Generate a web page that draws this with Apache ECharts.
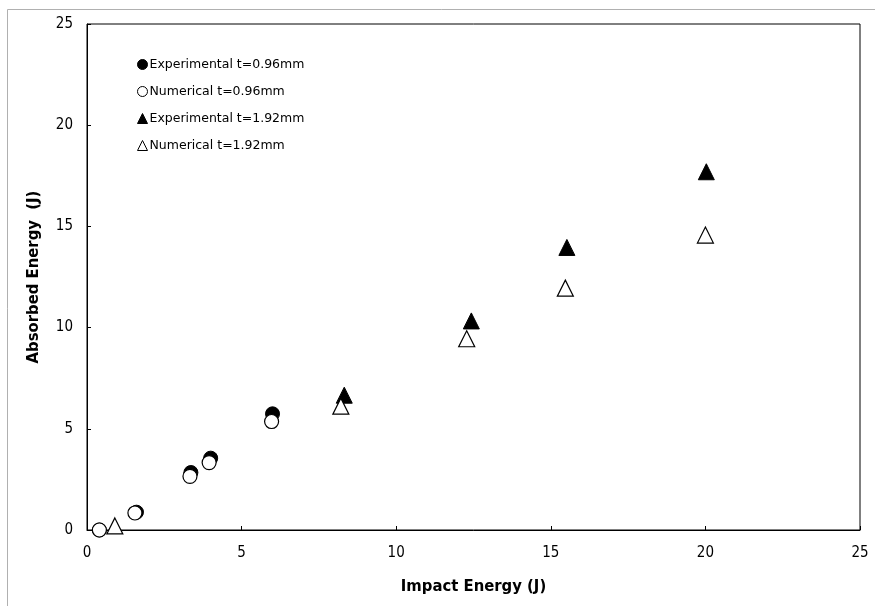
<!DOCTYPE html>
<html>
<head>
<meta charset="utf-8">
<script src="https://cdn.jsdelivr.net/npm/echarts@6/dist/echarts.min.js"></script>
<style>
html,body{margin:0;padding:0;background:#fff;}
#chart{width:875px;height:606px;}
</style>
</head>
<body>
<div id="chart"></div>
<script>
// Data
var expThinX = [0.4, 1.6, 3.36, 4.0, 6.0];
var expThinY = [0.0, 0.88, 2.84, 3.55, 5.74];
var numThinX = [0.4, 1.55, 3.33, 3.95, 5.97];
var numThinY = [0.0, 0.84, 2.65, 3.33, 5.36];
var expThickX = [8.32, 12.43, 15.52, 20.03];
var expThickY = [6.66, 10.33, 13.96, 17.7];
var numThickX = [0.9, 8.21, 12.28, 15.47, 20.0];
var numThickY = [0.2, 6.12, 9.45, 11.95, 14.57];
var seriesNames = ['Experimental t=0.96mm', 'Numerical t=0.96mm', 'Experimental t=1.92mm', 'Numerical t=1.92mm'];
var xTitle = 'Impact Energy (J)';
var yTitle = 'Absorbed Energy  (J)';

function pairs(xs, ys) { return xs.map(function (x, i) { return [x, ys[i]]; }); }

var chart = echarts.init(document.getElementById('chart'), null, {renderer: 'canvas'});
var tickFont = {fontFamily: 'DejaVu Sans Condensed, DejaVu Sans', fontSize: 15, color: '#000'};
var titleFont = {fontFamily: 'DejaVu Sans Condensed, DejaVu Sans', fontSize: 16.5, fontWeight: 'bold', color: '#000'};

chart.setOption({
  backgroundColor: '#fff',
  animation: false,
  graphic: [{
    type: 'rect', left: 5, top: 7, z: -10, silent: true,
    shape: {x: 0, y: 0, width: 900, height: 700},
    style: {fill: 'none', stroke: '#b0b0b0', lineWidth: 1}
  }],
  grid: {left: 87, top: 24, right: 15, bottom: 76, show: true, borderColor: '#000', borderWidth: 1, backgroundColor: 'transparent'},
  legend: {
    orient: 'vertical', left: 132, top: 53, itemGap: 14, itemWidth: 10, itemHeight: 10, itemStyle: {borderWidth: 1},
    textStyle: {fontFamily: 'DejaVu Sans', fontSize: 12.5, color: '#000', padding: [0, 0, 0, -3]},
    data: [
      {name: seriesNames[0], icon: 'circle', itemStyle: {color: '#000', borderColor: '#000'}},
      {name: seriesNames[1], icon: 'circle', itemStyle: {color: '#fff', borderColor: '#000'}},
      {name: seriesNames[2], icon: 'triangle', itemStyle: {color: '#000', borderColor: '#000'}},
      {name: seriesNames[3], icon: 'triangle', itemStyle: {color: '#fff', borderColor: '#000'}}
    ]
  },
  xAxis: {
    type: 'value', min: 0, max: 25, interval: 5,
    name: xTitle, nameLocation: 'middle', nameGap: 48, nameTextStyle: titleFont,
    axisLine: {show: true, lineStyle: {color: '#000', width: 1}},
    axisTick: {show: true, inside: true, length: 4, lineStyle: {color: '#000'}},
    axisLabel: Object.assign({margin: 16}, tickFont),
    splitLine: {show: false}
  },
  yAxis: {
    type: 'value', min: 0, max: 25, interval: 5,
    name: yTitle, nameLocation: 'middle', nameGap: 45, nameTextStyle: titleFont,
    axisLine: {show: true, lineStyle: {color: '#000', width: 1}},
    axisTick: {show: true, inside: true, length: 4, lineStyle: {color: '#000'}},
    axisLabel: Object.assign({margin: 14}, tickFont),
    splitLine: {show: false}
  },
  series: [
    {name: seriesNames[0], type: 'scatter', symbol: 'circle', symbolSize: 14, z: 2,
     itemStyle: {color: '#000', borderColor: '#000', borderWidth: 1, opacity: 1},
     data: pairs(expThinX, expThinY)},
    {name: seriesNames[2], type: 'scatter', symbol: 'triangle', symbolSize: 16, z: 2,
     itemStyle: {color: '#000', borderColor: '#000', borderWidth: 1, opacity: 1},
     data: pairs(expThickX, expThickY)},
    {name: seriesNames[1], type: 'scatter', symbol: 'circle', symbolSize: 14, z: 3,
     itemStyle: {color: '#fff', borderColor: '#000', borderWidth: 1.2, opacity: 1},
     data: pairs(numThinX, numThinY)},
    {name: seriesNames[3], type: 'scatter', symbol: 'triangle', symbolSize: 16, z: 3,
     itemStyle: {color: '#fff', borderColor: '#000', borderWidth: 1.2, opacity: 1},
     data: pairs(numThickX, numThickY)}
  ]
});
</script>
</body>
</html>
